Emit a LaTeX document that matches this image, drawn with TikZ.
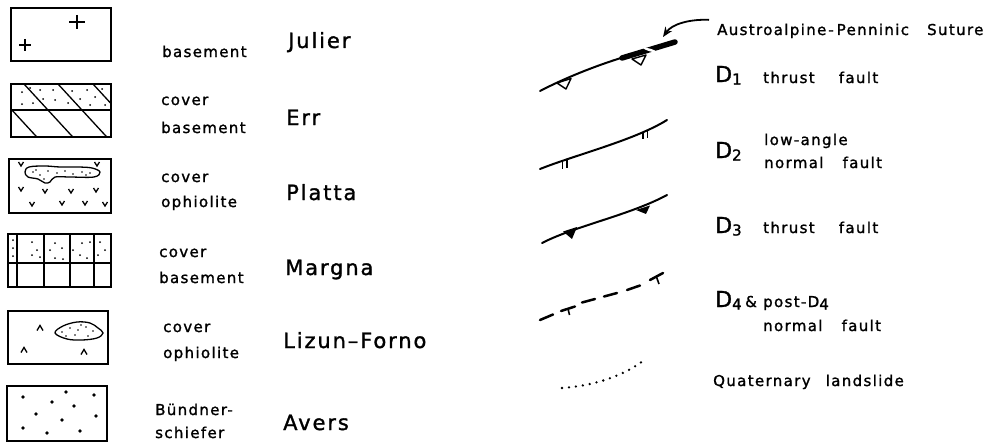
\documentclass[tikz,border=0pt]{standalone}
\usepackage{fontspec}
\setmainfont{DejaVu Sans}
\newfontfamily\lblfont[LetterSpace=9,FakeBold=1.4]{DejaVu Sans}
\usetikzlibrary{arrows.meta}
\tikzset{
  legbox/.style={draw, line width=1.8pt},
  inner/.style={line width=1.3pt},
  small/.style={font=\lblfont\fontsize{15}{17}\selectfont, inner sep=0pt, anchor=base west},
  big/.style={font=\lblfont\fontsize{21}{24}\selectfont, inner sep=0pt, anchor=base west},
  dlab/.style={font=\lblfont\fontsize{22}{24}\selectfont, inner sep=0pt, anchor=base west},
  fault/.style={line width=2pt, line cap=round},
  tri/.style={line width=1.4pt, line join=round},
}
\newcommand{\subn}[1]{\raisebox{-2.5pt}{\fontsize{15}{15}\selectfont #1}}
\begin{document}
\begin{tikzpicture}[x=1pt,y=-1pt]
\useasboundingbox (0,0) rectangle (995,444);

% ---------- Box 1: Julier basement ----------
\draw[legbox] (11,8) rectangle (111,61);
\draw[inner] (69,22) -- (85,22) (77,15) -- (77,29);
\draw[inner] (19,45) -- (31,45) (25,39) -- (25,51);

% ---------- Box 2: Err ----------
\begin{scope}
  \clip (11,84) rectangle (111,137);
  \foreach \xo in {-12,24,58,93} \draw[inner] (\xo,84) -- ++(58,63);
\end{scope}
\draw[inner] (11,110) -- (111,110);
\foreach \x/\y in {22/92,30/88,40/90,53/90,72/91,87/90,102/89,43/99,55/100,80/99,95/97,22/104,33/103,68/103,90/105,105/105}
  \fill (\x,\y) circle[radius=1pt];
\draw[legbox] (11,84) rectangle (111,137);

% ---------- Box 3: Platta ----------
\draw[legbox] (9,159) rectangle (111,213);
\draw[inner] plot[smooth cycle, tension=0.6] coordinates {(25,172) (29,167) (45,166) (60,167) (78,167) (92,168) (100,172) (94,177) (70,177) (55,177) (50,182) (45,183) (38,179) (28,177)};
\foreach \x/\y in {33/172,40/175,48/171,57/173,65/171,73/174,82/172,90/173,44/179,36/170,86/175}
  \fill (\x,\y) circle[radius=0.8pt];
\foreach \x/\y in {21/164,97/164,21/189,45/191,71/191,96/190,32/204,62/203,85/203,105/204}
  \draw[inner] (\x-2.5,\y-2) -- (\x,\y+2) -- (\x+2.5,\y-2);

% ---------- Box 4: Margna ----------
\draw[inner] (8,263) -- (111,263);
\foreach \x in {17,44,70,94} \draw[inner] (\x,234) -- (\x,287);
\foreach \x/\y in {13/240,13/248,13/256,32/242,37/250,32/255,40/257,55/243,62/248,50/250,55/258,63/259,73/250,82/243,90/242,80/255,87/258,100/242,105/250,98/255}
  \fill (\x,\y) circle[radius=1pt];
\draw[legbox] (8,234) rectangle (111,287);

% ---------- Box 5: Lizun-Forno ----------
\draw[legbox] (8,311) rectangle (108,364);
\draw[inner] plot[smooth cycle, tension=0.6] coordinates {(55,333) (63,326) (77,322) (90,323) (98,328) (103,333) (97,338) (82,340) (67,339)};
\foreach \x/\y in {62/332,70/328,78/330,86/327,93/331,75/335,88/336,66/336,81/325}
  \fill (\x,\y) circle[radius=0.8pt];
\foreach \x/\y in {40/328,24/350,84/352}
  \draw[inner] (\x-3,\y+2.5) -- (\x,\y-2.5) -- (\x+3,\y+2.5);

% ---------- Box 6: Avers ----------
\draw[legbox] (7,386) rectangle (107,441);
\foreach \x/\y in {23/397,66/392,94/395,52/402,74/406,36/414,62/420,96/416,23/428,47/433,80/431}
  \fill (\x,\y) circle[radius=1.8pt];

% ---------- Left labels ----------
\node[small] (l1) at (162,57) {basement};
\node[big]   (n1) at (288,48) {Julier};
\node[small] (l2a) at (161,105) {cover};
\node[small] (l2b) at (161,133) {basement};
\node[big]   (n2) at (286,125) {Err};
\node[small] (l3a) at (161,182) {cover};
\node[small] (l3b) at (161,207) {ophiolite};
\node[big]   (n3) at (286,200) {Platta};
\node[small] (l4a) at (159,257) {cover};
\node[small] (l4b) at (159,283) {basement};
\node[big]   (n4) at (285,275) {Margna};
\node[small] (l5a) at (163,332) {cover};
\node[small] (l5b) at (163,358) {ophiolite};
\node[big]   (n5) at (283,348) {Lizun–Forno};
\node[small] (l6a) at (155,415) {Bündner-};
\node[small] (l6b) at (155,438) {schiefer};
\node[big]   (n6) at (283,430) {Avers};

% ---------- Right labels ----------
\node[small] (sut) at (717,35) {Austroalpine\hspace{2pt}-\hspace{3pt}Penninic\hspace{12pt} Suture};
\node[dlab]  (d1) at (715,82) {D\subn{1}};
\node[small] (t1) at (763,83) {thrust\hspace{18pt} fault};
\node[dlab]  (d2) at (715,158) {D\subn{2}};
\node[small] (t2a) at (764,145) {low-angle};
\node[small] (t2b) at (764,168) {normal\hspace{13pt} fault};
\node[dlab]  (d3) at (715,233) {D\subn{3}};
\node[small] (t3) at (763,233) {thrust\hspace{18pt} fault};
\node[dlab]  (d4) at (715,307) {D\subn{4}};
\node[small] (amp) at (745,307) {\&};
\node[small] (t4a) at (763,307) {post-D\subn{4}};
\node[small] (t4b) at (763,331) {normal\hspace{13pt} fault};
\node[small] (t5) at (713,386) {Quaternary\hspace{9pt} landslide};

% ---------- D1 thrust + suture ----------
\draw[fault] (540,91) .. controls (565,78) and (595,66) .. (624,57);
\draw[line width=5.5pt, line cap=round] (622,58) -- (675,42);
\fill[white, rotate around={-17:(650,50)}] (650,50) ellipse[x radius=7pt, y radius=1.3pt];
\draw[tri] (557,83) -- (571,78.5) -- (566,89) -- cycle;
\draw[tri] (632,59) -- (646,55) -- (641,65) -- cycle;
\coordinate (suttip) at (663,37);
\draw[line width=1.8pt, -{Stealth[length=10pt,width=8pt]}] (sut.west) ++(-8,-11) .. controls (690,19) and (672,24) .. (suttip);

% ---------- D2 low-angle normal fault ----------
\draw[fault] (540,169) .. controls (575,155) and (635,140) .. (667,120);
\draw[line width=1.6pt] (562.5,161) -- (562.5,169) (567,159.5) -- (567,167.5);
\draw[line width=1.6pt] (643,132.5) -- (643,139) (647.5,131) -- (647.5,137.5);

% ---------- D3 thrust fault ----------
\draw[fault] (542,243) .. controls (575,226) and (630,215) .. (667,195);
\fill[tri] (563,231.5) -- (577,227) -- (572,239) -- cycle;
\fill[tri] (636,210) -- (650,205.5) -- (646,214) -- cycle;

% ---------- D4 normal fault (dashed with ticks) ----------
\draw[fault, line width=2.5pt] (540,320) -- (553,314.5);
\draw[fault, line width=2.5pt] (561,311) -- (575,306.5);
\draw[line width=1.6pt] (568,308.7) -- (569.5,315);
\draw[fault, line width=2.5pt] (582,302.5) -- (595,299);
\draw[fault, line width=2.5pt] (604,296.5) -- (617,293);
\draw[fault, line width=2.5pt] (627,290) -- (640,285.5);
\draw[fault, line width=2.5pt] (650,280) -- (663,273);
\draw[line width=1.6pt] (656.5,277) -- (659,284);

% ---------- Landslide (dotted) ----------
\draw[line width=2.6pt, line cap=round, dash pattern=on 0pt off 7pt] (562,388) .. controls (590,386) and (620,378) .. (643,361);
\end{tikzpicture}
\end{document}
